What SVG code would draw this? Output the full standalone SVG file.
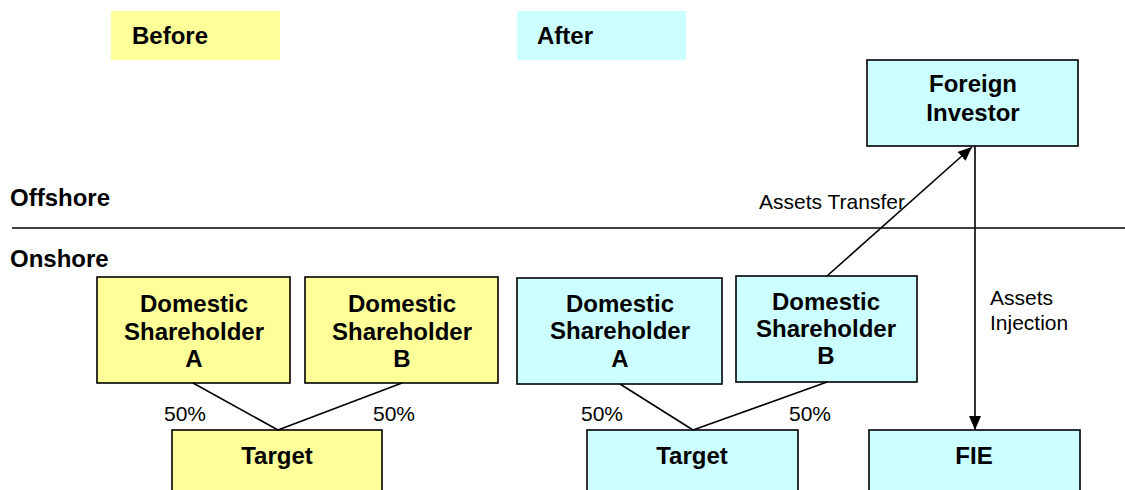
<svg xmlns="http://www.w3.org/2000/svg" width="1125" height="490" viewBox="0 0 1125 490">
<style>
.y{fill:#FFFF99;stroke:#000;stroke-width:1.6}
.c{fill:#CCFFFF;stroke:#000;stroke-width:1.6}
.b{font-family:"Liberation Sans",Arial,sans-serif;font-weight:bold;font-size:24px;fill:#000}
.m{text-anchor:middle}
.r{font-family:"Liberation Sans",Arial,sans-serif;font-size:21px;fill:#000}
.l{stroke:#000;stroke-width:1.6;fill:none}
</style>
<defs>
<marker id="ah" markerWidth="14" markerHeight="12" refX="14" refY="6" orient="auto" markerUnits="userSpaceOnUse">
<path d="M0,0 L14,6 L0,12 Z" fill="#000"/>
</marker>
</defs>
<rect width="1125" height="490" fill="#fff"/>
<g id="legend-before"><rect x="111" y="11" width="169" height="49" fill="#FFFF99"/><text class="b" x="132" y="44">Before</text></g>
<g id="legend-after"><rect x="517" y="11" width="169" height="49" fill="#CCFFFF"/><text class="b" x="537" y="44">After</text></g>
<g id="zones">
<text class="b" x="10" y="206">Offshore</text>
<text class="b" x="10" y="267">Onshore</text>
<line class="l" x1="12" y1="228" x2="1125" y2="228"/>
</g>
<g id="foreign-investor"><rect class="c" x="867" y="60" width="211" height="86"/><text class="b m" x="973" y="92">Foreign</text><text class="b m" x="973" y="121">Investor</text></g>
<g id="before-a"><rect class="y" x="97" y="277" width="193" height="106"/><text class="b m" x="194" y="312">Domestic</text><text class="b m" x="194" y="340">Shareholder</text><text class="b m" x="194" y="367">A</text></g>
<g id="before-b"><rect class="y" x="305" y="277" width="193" height="106"/><text class="b m" x="402" y="312">Domestic</text><text class="b m" x="402" y="340">Shareholder</text><text class="b m" x="402" y="367">B</text></g>
<g id="after-a"><rect class="c" x="517" y="278" width="205" height="106"/><text class="b m" x="620" y="312">Domestic</text><text class="b m" x="620" y="339">Shareholder</text><text class="b m" x="620" y="367">A</text></g>
<g id="after-b"><rect class="c" x="736" y="276" width="181" height="106"/><text class="b m" x="826" y="310">Domestic</text><text class="b m" x="826" y="337">Shareholder</text><text class="b m" x="826" y="364">B</text></g>
<g id="before-target"><rect class="y" x="172" y="430" width="210" height="70"/><text class="b m" x="277" y="464">Target</text></g>
<g id="after-target"><rect class="c" x="587" y="430" width="211" height="70"/><text class="b m" x="692" y="464">Target</text></g>
<g id="fie"><rect class="c" x="869" y="430" width="211" height="70"/><text class="b m" x="974" y="464">FIE</text></g>
<g id="connectors">
<line class="l" x1="193" y1="383" x2="278" y2="430"/>
<line class="l" x1="402" y1="383" x2="278" y2="430"/>
<line class="l" x1="620" y1="384" x2="693" y2="430"/>
<line class="l" x1="827" y1="382" x2="693" y2="430"/>
<line class="l" x1="827" y1="276" x2="972" y2="147" marker-end="url(#ah)"/>
<line class="l" x1="975" y1="146" x2="975" y2="430" marker-end="url(#ah)"/>
<text class="r" x="164" y="421">50%</text>
<text class="r" x="373" y="421">50%</text>
<text class="r" x="581" y="421">50%</text>
<text class="r" x="789" y="421">50%</text>
<text class="r" x="759" y="209">Assets Transfer</text>
<text class="r" x="990" y="305">Assets</text>
<text class="r" x="990" y="330">Injection</text>
</g>
</svg>
